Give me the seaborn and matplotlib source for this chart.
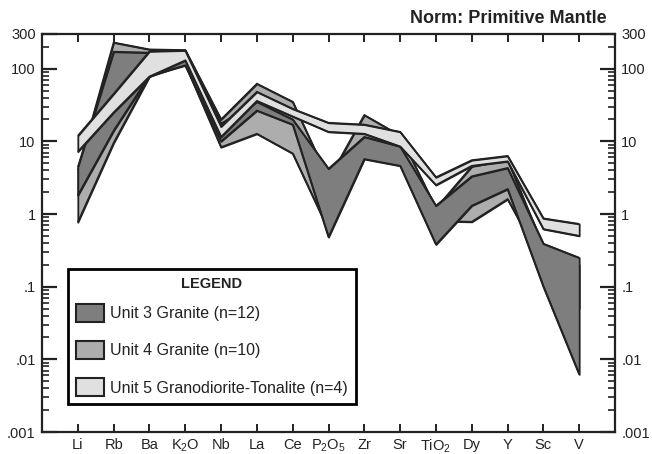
import numpy as np
import pandas as pd
import matplotlib
matplotlib.use("Agg")
import matplotlib.pyplot as plt
import seaborn as sns
from matplotlib.patches import Patch
from matplotlib.ticker import LogLocator, NullFormatter, FixedLocator, FixedFormatter

# ---------------- data ----------------
elements = ["Li", "Rb", "Ba", "K2O", "Nb", "La", "Ce", "P2O5", "Zr", "Sr",
            "TiO2", "Dy", "Y", "Sc", "V"]
element_labels = ["Li", "Rb", "Ba", r"$\mathregular{K_2O}$", "Nb", "La", "Ce",
                  r"$\mathregular{P_2O_5}$", "Zr", "Sr", r"$\mathregular{TiO_2}$",
                  "Dy", "Y", "Sc", "V"]

unit3_upper = [4.4, 171, 166, 172, 17.5, 35, 20, 4.2, 11.5, 8.5, 1.3, 3.3, 4.3, 0.39, 0.25]
unit3_lower = [1.8, 14, 80, 111, 10, 26.5, 17, 0.48, 5.7, 4.6, 0.38, 1.3, 2.2, 0.1, 0.0062]
unit4_upper = [4.0, 229, 184, 180, 20, 62, 35, 3.0, 23, 12, 1.2, 4.5, 5.6, 0.35, 0.2]
unit4_lower = [0.77, 9.5, 78, 115, 8.3, 12.7, 6.8, 0.6, 6.0, 5.0, 0.8, 0.78, 1.6, 0.2, 0.05]
unit5_upper = [11.9, 45, 173, 178, 16, 48, 28, 18, 17, 13.5, 3.2, 5.5, 6.3, 0.87, 0.73]
unit5_lower = [7.2, 25, 78, 130, 11.5, 36, 22, 13.5, 12.7, 8.5, 2.5, 4.6, 5.3, 0.62, 0.5]

unit_names = ["Unit 3 Granite (n=12)", "Unit 4 Granite (n=10)",
              "Unit 5 Granodiorite-Tonalite (n=4)"]

y_ticks = [0.001, 0.01, 0.1, 1, 10, 100, 300]
y_tick_labels = [".001", ".01", ".1", "1", "10", "100", "300"]

title_text = "Norm: Primitive Mantle"

# ---------------- style ----------------
sns.set_theme(style="ticks")
plt.rcParams["font.family"] = ["Liberation Sans", "DejaVu Sans"]
plt.rcParams["mathtext.default"] = "regular"
INK = "#222222"

colors = {"Unit 3 Granite (n=12)": "#7e7e7e",
          "Unit 4 Granite (n=10)": "#adadad",
          "Unit 5 Granodiorite-Tonalite (n=4)": "#e0e0e0"}

fig = plt.figure(figsize=(6.52, 4.54), dpi=100)
ax = fig.add_axes([42 / 652, 1 - 432 / 454, (615 - 42) / 652, (432 - 34) / 454])

x = np.arange(len(elements))
bands = [
    ("Unit 4 Granite (n=10)", unit4_lower, unit4_upper, 2),
    ("Unit 3 Granite (n=12)", unit3_lower, unit3_upper, 4),
    ("Unit 5 Granodiorite-Tonalite (n=4)", unit5_lower, unit5_upper, 6),
]
for name, lo, hi, z in bands:
    ax.fill_between(x, lo, hi, facecolor=colors[name], edgecolor=INK,
                    linewidth=1.3, zorder=z)
    df = pd.DataFrame({"x": np.concatenate([x, x]),
                       "v": np.concatenate([lo, hi]),
                       "edge": ["lo"] * len(x) + ["hi"] * len(x)})
    sns.lineplot(data=df, x="x", y="v", units="edge", estimator=None,
                 color=INK, linewidth=1.3, ax=ax, zorder=z + 0.5, legend=False,
                 solid_capstyle="butt", solid_joinstyle="miter")

ax.set_yscale("log")
ax.set_ylim(0.001, 300)
ax.set_xlim(-1, 15)
ax.set_xlabel("")
ax.set_ylabel("")

ax.xaxis.set_major_locator(FixedLocator(x))
ax.set_xticklabels(element_labels)
ax.yaxis.set_major_locator(FixedLocator(y_ticks))
ax.yaxis.set_major_formatter(FixedFormatter(y_tick_labels))
ax.yaxis.set_minor_locator(LogLocator(base=10, subs=np.arange(2, 10), numticks=20))
ax.yaxis.set_minor_formatter(NullFormatter())

ax.tick_params(axis="x", which="major", direction="in", top=True, bottom=True,
               length=6, width=1.4, color=INK, labelsize=10.5, labelcolor=INK, pad=4)
ax.tick_params(axis="y", which="major", direction="in", left=True, right=True,
               labelleft=True, labelright=True, length=11, width=1.6, color=INK,
               labelsize=10.5, labelcolor=INK, pad=4.5)
ax.tick_params(axis="y", which="minor", direction="in", left=True, right=True,
               length=5, width=1.2, color=INK)
for s in ax.spines.values():
    s.set_visible(True)
    s.set_linewidth(1.6)
    s.set_color(INK)

ax.text(1 - 8 / 573, 1.018, title_text, transform=ax.transAxes, ha="right",
        va="bottom", fontsize=13, fontweight="bold", color=INK)

handles = [Patch(facecolor=colors[n], edgecolor=INK, linewidth=1.5, label=n)
           for n in unit_names]
leg = ax.legend(handles=handles, loc="upper left",
                bbox_to_anchor=((68 - 42) / 573, 0.0628, (356 - 68) / 573, 0.3467),
                mode="expand", borderaxespad=0, fontsize=11.5,
                title="LEGEND", title_fontproperties={"weight": "bold", "size": 10.5},
                handlelength=1.75, handleheight=1.375, handletextpad=0.4,
                borderpad=0.5, labelspacing=1.2, fancybox=False, framealpha=1,
                edgecolor="black", facecolor="white", labelcolor=INK)
leg.get_frame().set_linewidth(2.0)
leg.get_title().set_color(INK)
leg.set_zorder(10)
try:
    leg._legend_box.sep = 9.0
except Exception:
    pass

fig.savefig("out.png", dpi=100, facecolor="white")
